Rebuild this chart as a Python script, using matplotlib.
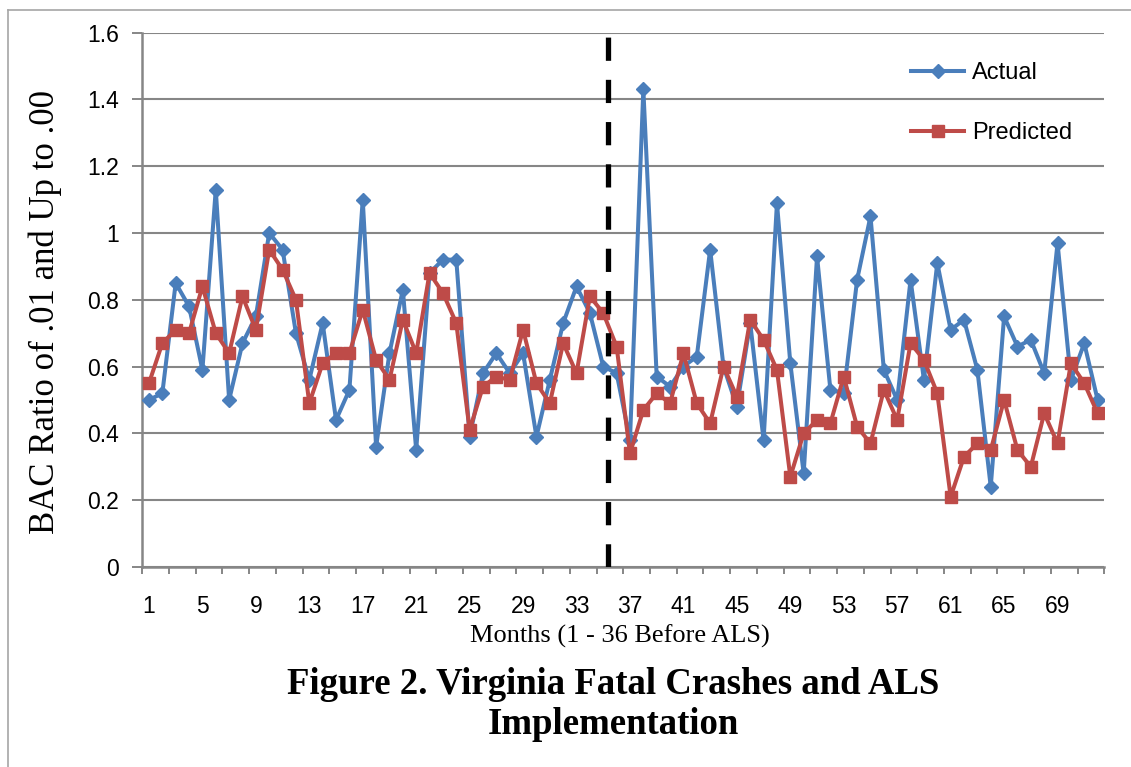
import matplotlib
matplotlib.use('Agg')
import matplotlib.pyplot as plt
from matplotlib.ticker import FixedLocator, FuncFormatter, NullFormatter
from matplotlib.lines import Line2D

# ---- data ----
months = list(range(1, 73))
actual = [0.50, 0.52, 0.85, 0.78, 0.59, 1.13, 0.50, 0.67, 0.75, 1.00,
          0.95, 0.70, 0.56, 0.73, 0.44, 0.53, 1.10, 0.36, 0.64, 0.83,
          0.35, 0.88, 0.92, 0.92, 0.39, 0.58, 0.64, 0.58, 0.64, 0.39,
          0.56, 0.73, 0.84, 0.76, 0.60, 0.58, 0.38, 1.43, 0.57, 0.54,
          0.60, 0.63, 0.95, 0.60, 0.48, 0.73, 0.38, 1.09, 0.61, 0.28,
          0.93, 0.53, 0.52, 0.86, 1.05, 0.59, 0.50, 0.86, 0.56, 0.91,
          0.71, 0.74, 0.59, 0.24, 0.75, 0.66, 0.68, 0.58, 0.97, 0.56,
          0.67, 0.50]
predicted = [0.55, 0.67, 0.71, 0.70, 0.84, 0.70, 0.64, 0.81, 0.71, 0.95,
             0.89, 0.80, 0.49, 0.61, 0.64, 0.64, 0.77, 0.62, 0.56, 0.74,
             0.64, 0.88, 0.82, 0.73, 0.41, 0.54, 0.57, 0.56, 0.71, 0.55,
             0.49, 0.67, 0.58, 0.81, 0.76, 0.66, 0.34, 0.47, 0.52, 0.49,
             0.64, 0.49, 0.43, 0.60, 0.51, 0.74, 0.68, 0.59, 0.27, 0.40,
             0.44, 0.43, 0.57, 0.42, 0.37, 0.53, 0.44, 0.67, 0.62, 0.52,
             0.21, 0.33, 0.37, 0.35, 0.50, 0.35, 0.30, 0.46, 0.37, 0.61,
             0.55, 0.46]
y_ticks = [0, 0.2, 0.4, 0.6, 0.8, 1.0, 1.2, 1.4, 1.6]
x_tick_labels = [1, 5, 9, 13, 17, 21, 25, 29, 33, 37, 41, 45, 49, 53, 57, 61, 65, 69]
als_line = 35.33
series_names = ['Actual', 'Predicted']

blue = '#4A7EBB'
red = '#BE4B48'
grid_gray = '#868686'

fig = plt.figure(figsize=(11.31, 7.67), dpi=100)
ax = fig.add_axes([0.1258, 0.2608, 0.8506, 0.6968])

ax.plot(months, actual, color=blue, lw=2.9, marker='D', ms=7.5,
        markerfacecolor=blue, markeredgecolor=blue, label=series_names[0], zorder=3)
ax.plot(months, predicted, color=red, lw=2.9, marker='s', ms=8.5,
        markerfacecolor=red, markeredgecolor=red, label=series_names[1], zorder=4)

ax.axvline(als_line, color='black', lw=3.8, dashes=(4.4, 3.6), zorder=5)

ax.set_xlim(0.5, 72.5)
ax.set_ylim(0, 1.6)

# y axis
ax.yaxis.set_major_locator(FixedLocator(y_ticks))
ax.yaxis.set_major_formatter(FuncFormatter(lambda v, p: '{:g}'.format(round(v, 1))))
ax.grid(axis='y', color=grid_gray, lw=1.5, zorder=0)
ax.set_axisbelow(True)

# x axis: boundary ticks every 2 months, labels every 4 months
ax.xaxis.set_major_locator(FixedLocator([0.5 + 2 * i for i in range(37)]))
ax.xaxis.set_major_formatter(NullFormatter())
ax.xaxis.set_minor_locator(FixedLocator(x_tick_labels))
ax.xaxis.set_minor_formatter(FuncFormatter(lambda v, p: '{:d}'.format(int(round(v)))))

tick_font = 'Liberation Sans'
ax.tick_params(axis='x', which='major', length=5, width=1.4, color=grid_gray, direction='out')
ax.tick_params(axis='x', which='minor', length=0, pad=20, labelsize=16.5)
ax.tick_params(axis='y', which='major', length=7, width=1.4, color=grid_gray,
               direction='out', pad=10, labelsize=16.5)
for lab in ax.get_xticklabels(minor=True) + ax.get_yticklabels():
    lab.set_fontfamily(tick_font)

for s in ['top', 'right']:
    ax.spines[s].set_visible(False)
for s in ['left', 'bottom']:
    ax.spines[s].set_color(grid_gray)
    ax.spines[s].set_linewidth(1.8)

# legend
leg = ax.legend(loc='upper left', bbox_to_anchor=(911 / 1131, 1 - 62 / 767),
                bbox_transform=fig.transFigure, frameon=False,
                prop={'family': tick_font, 'size': 17},
                handlelength=2.25, handletextpad=0.35, labelspacing=1.6,
                borderpad=0, borderaxespad=0)

# labels and title
serif = 'Liberation Serif'
fig.text(45 / 1131, 1 - 312 / 767, 'BAC Ratio of .01 and Up to .00', rotation=90,
         ha='center', va='center', family=serif, fontsize=25)
fig.text(620 / 1131, 1 - 636 / 767, 'Months (1 - 36 Before ALS)',
         ha='center', va='center', family=serif, fontsize=19)
fig.text(613 / 1131, 1 - 685 / 767, 'Figure 2. Virginia Fatal Crashes and ALS',
         ha='center', va='center', family=serif, fontsize=26.5, fontweight='bold')
fig.text(613 / 1131, 1 - 725 / 767, 'Implementation',
         ha='center', va='center', family=serif, fontsize=26.5, fontweight='bold')

# outer frame
fig.add_artist(Line2D([8 / 1131, 1], [1 - 10 / 767, 1 - 10 / 767],
                      transform=fig.transFigure, color='#A6A6A6', lw=1.2))
fig.add_artist(Line2D([8 / 1131, 8 / 1131], [0, 1 - 10 / 767],
                      transform=fig.transFigure, color='#A6A6A6', lw=1.2))

fig.savefig('out.png', dpi=100)
